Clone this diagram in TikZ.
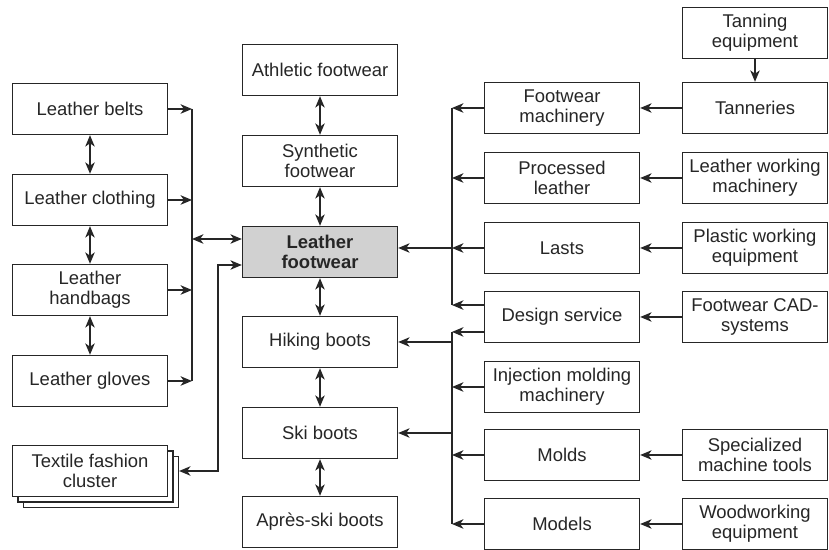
\documentclass[tikz,border=0pt]{standalone}
\usepackage{fontspec}
\setmainfont{Liberation Sans}
\usetikzlibrary{arrows.meta,positioning,shadows}
\usepackage{xcolor}

\begin{document}
\begin{tikzpicture}[x=0.02cm, y=-0.02cm, line width=0.8pt, color=black!85,
    >={Stealth[length=6.5pt,width=5.4pt,inset=1.9pt]},
    every node/.style={
    rectangle,
    inner sep=2pt,
    draw,
    fill=white,
    align=center,
    minimum width=3.1cm,
    minimum height=1.02cm,
    font=\fontsize{10.5}{11.5}\selectfont
}]

    \useasboundingbox (0,0) rectangle (829,550);

    % left cluster
    \node (leather_belts) [shift={(90, 109)}] {Leather belts};
    \node (leather_clothing) [shift={(90, 200)}] {Leather clothing};
    \node (leather_handbags) [shift={(90, 290)}] {Leather\\handbags};
    \node (leather_gloves) [shift={(90, 381)}] {Leather gloves};

    \node (textile_fashion_cluster) [shift={(90, 471)},
        copy shadow={shadow xshift=6.2pt, shadow yshift=-6.2pt, fill=white, draw=black!85},
        copy shadow={shadow xshift=3.1pt, shadow yshift=-3.1pt, fill=white, draw=black!85}]
    {
        Textile fashion\\cluster
    };



    % footwear column
    \node (athletic_footwear) [shift={(320, 70)}] {Athletic footwear};
    \node (synthetic_footwear) [shift={(320, 161)}] {Synthetic\\footwear};
    \node (leather_footwear) [fill=black!18, font=\fontsize{10.5}{11.5}\selectfont\bfseries, shift={(320, 252)}]
    {
        Leather\\footwear
    };
    \node (hiking_boots) [shift={(320, 342)}] {Hiking boots};
    \node (ski_boots) [shift={(320, 433)}] {Ski boots};
    \node (apres_ski_boots) [shift={(320, 522)}] {Après-ski boots};



    % suppliers
    \node (footwear_machinery) [shift={(562, 108)}] {Footwear\\machinery};
    \node (processed_leather) [shift={(562, 178)}] {Processed\\leather};
    \node (lasts) [shift={(562, 248)}] {Lasts};
    \node (design_service) [shift={(562, 317)}] {Design service};
    \node (injection_molding_machinery) [shift={(562, 387)}] {Injection molding\\machinery};
    \node (molds) [shift={(562, 455)}] {Molds};
    \node (models) [shift={(562, 524)}] {Models};



    % second tier suppliers
    \node (tanning_equipment) [minimum width=2.9cm, shift={(755, 33)}] {Tanning\\equipment};
    \node (tanneries) [minimum width=2.9cm, shift={(755, 108)}] {Tanneries};
    \node (leather_working_machinery) [minimum width=2.9cm, shift={(755, 178)}] {Leather working\\machinery};
    \node (plastic_working_equipment) [minimum width=2.9cm, shift={(755, 248)}] {Plastic working\\equipment};
    \node (footwear_cad_systems) [minimum width=2.9cm, shift={(755, 317)}] {Footwear CAD-\\systems};
    \node (specialized_machine_tools) [minimum width=2.9cm, shift={(755, 455)}] {Specialized\\machine tools};
    \node (woodworking_equipment) [minimum width=2.9cm, shift={(755, 524)}] {Woodworking\\equipment};


    \coordinate (left_bus_top) at (192, 109);
    \coordinate (left_bus_bottom) at (192, 381);
    \coordinate (left_bus_mid) at (192, 239);
    \coordinate (textile_bend) at (218, 265);
    \coordinate (upper_bus_top) at (452, 108);
    \coordinate (upper_bus_bottom) at (452, 305);
    \coordinate (lower_bus_top) at (452, 332);
    \coordinate (lower_bus_bottom) at (452, 524);


    % related industries on the left
    \draw[<->] (leather_belts) to (leather_clothing);
    \draw[<->] (leather_clothing) to (leather_handbags);
    \draw[<->] (leather_handbags) to (leather_gloves);
    \draw[->] (leather_belts.east) to (leather_belts.east -| left_bus_top);
    \draw[->] (leather_clothing.east) to (leather_clothing.east -| left_bus_top);
    \draw[->] (leather_handbags.east) to (leather_handbags.east -| left_bus_top);
    \draw[->] (leather_gloves.east) to (leather_gloves.east -| left_bus_top);
    \draw (left_bus_top) to (left_bus_bottom);
    \draw[<->] (left_bus_mid) to (left_bus_mid -| leather_footwear.west);
    \draw[<->] ([xshift=6.2pt]textile_fashion_cluster.east) -| (textile_bend) -- (textile_bend -| leather_footwear.west);


    % footwear column
    \draw[<->] (athletic_footwear) to (synthetic_footwear);
    \draw[<->] (synthetic_footwear) to (leather_footwear);
    \draw[<->] (leather_footwear) to (hiking_boots);
    \draw[<->] (hiking_boots) to (ski_boots);
    \draw[<->] (ski_boots) to (apres_ski_boots);


    % suppliers into the buses
    \draw[->] (footwear_machinery.west) to (footwear_machinery.west -| upper_bus_top);
    \draw[->] (processed_leather.west) to (processed_leather.west -| upper_bus_top);
    \draw[->] (lasts.west) to (lasts.west -| upper_bus_top);
    \draw[->] ([yshift=6.8pt]design_service.west) to ([yshift=6.8pt]design_service.west -| upper_bus_top);
    \draw (upper_bus_top) to (upper_bus_bottom);
    \draw[->] (lasts.west -| upper_bus_top) to (lasts.west -| leather_footwear.east);

    \draw[->] ([yshift=-8.5pt]design_service.west) to ([yshift=-8.5pt]design_service.west -| lower_bus_top);
    \draw[->] (injection_molding_machinery.west) to (injection_molding_machinery.west -| lower_bus_top);
    \draw[->] (molds.west) to (molds.west -| lower_bus_top);
    \draw[->] (models.west) to (models.west -| lower_bus_top);
    \draw (lower_bus_top) to (lower_bus_bottom);
    \draw[->] (hiking_boots.east -| lower_bus_top) to (hiking_boots.east);
    \draw[->] (ski_boots.east -| lower_bus_top) to (ski_boots.east);


    % second tier
    \draw[->] (tanning_equipment) to (tanneries);
    \draw[->] (tanneries) to (footwear_machinery);
    \draw[->] (leather_working_machinery) to (processed_leather);
    \draw[->] (plastic_working_equipment) to (lasts);
    \draw[->] (footwear_cad_systems) to (design_service);
    \draw[->] (specialized_machine_tools) to (molds);
    \draw[->] (woodworking_equipment) to (models);


\end{tikzpicture}
\end{document}
